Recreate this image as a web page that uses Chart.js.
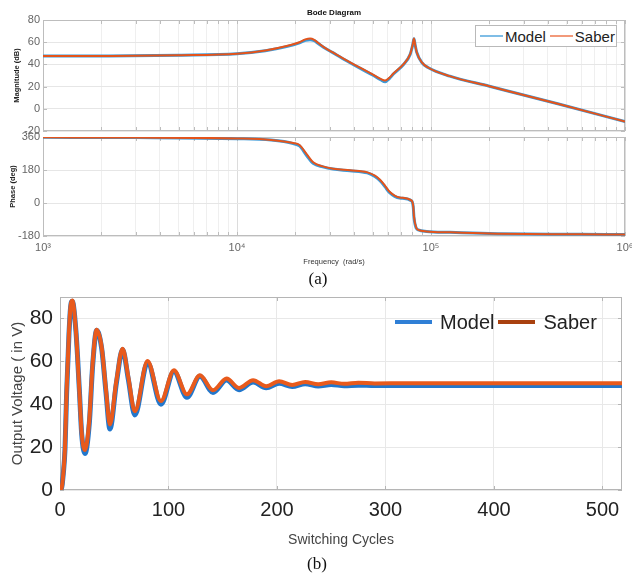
<!DOCTYPE html>
<html>
<head>
<meta charset="utf-8">
<script src="https://cdn.jsdelivr.net/npm/chart.js@4.4.1/dist/chart.umd.min.js"></script>
<style>
  body { margin: 0; background: #fff; }
  #page { position: relative; width: 632px; height: 573px; overflow: hidden; font-family: "Liberation Sans", Arial, sans-serif; }
  canvas { position: absolute; left: 0; }
  .cap { position: absolute; font-family: "Liberation Serif", "Times New Roman", serif; font-size: 17px; color: #111; transform: translate(-50%, -50%); }
  .legend { position: absolute; display: flex; align-items: center; white-space: nowrap; color: #222; box-sizing: border-box; }
  .legend .sw { display: inline-block; }
</style>
</head>
<body>
<div id="page">
  <canvas id="mag" width="632" height="140" style="top:0"></canvas>
  <canvas id="phase" width="632" height="142" style="top:128px"></canvas>
  <canvas id="time" width="632" height="265" style="top:285px"></canvas>
  <div id="legA" class="legend" style="left:475px;top:25px;width:142px;height:22px;border:1px solid #b9b9b9;background:#fff;font-size:15px;padding-left:4px"></div>
  <div id="legB" class="legend" style="left:395px;top:309px;height:26px;font-size:20px"></div>
  <div class="cap" style="left:318px;top:279px">(a)</div>
  <div class="cap" style="left:317px;top:564px">(b)</div>
</div>
<script>
// series names
const seriesNames = ['Model', 'Saber'];

// Bode magnitude (frequency in rad/s, dB)
const magFreq  = [1e3, 2e3, 5e3, 1e4, 1.4e4, 1.8e4, 2.1e4, 2.25e4, 2.38e4, 2.5e4, 2.58e4, 2.79e4, 3.1e4, 3.67e4, 4.3e4, 5.0e4, 5.5e4, 5.8e4, 6.1e4, 6.4e4, 7.2e4, 7.8e4, 8.05e4, 8.17e4, 8.3e4, 8.44e4, 8.95e4, 9.7e4, 1.25e5, 2e5, 4.5e5, 1e6];
const magSaber = [47.5, 47.6, 48.2, 49.6, 52.5, 56.5, 60, 62.5, 63.4, 62.2, 60.3, 55.8, 51, 43.6, 37, 31, 27, 25.5, 28, 31.8, 40, 49, 58, 63.4, 57, 51, 42, 37, 29.4, 20.3, 4.5, -11.5];
const magModel = [47.5, 47.6, 48.2, 49.5, 52.3, 56, 59.4, 61.6, 62.3, 61.5, 59.8, 55.5, 50.8, 43.3, 36.6, 30.4, 26.2, 24.4, 27.2, 31.3, 39.7, 48.8, 57.6, 63, 56.8, 50.9, 41.9, 37, 29.4, 20.3, 4.5, -11.5];

// Bode phase (deg)
const phaseFreq  = [1e3, 3e3, 1e4, 1.5e4, 1.95e4, 2.1e4, 2.29e4, 2.47e4, 2.77e4, 3.13e4, 3.82e4, 4.7e4, 5.14e4, 5.46e4, 5.8e4, 6.1e4, 6.9e4, 7.95e4, 8.1e4, 8.17e4, 8.4e4, 8.6e4, 9.5e4, 1.25e5, 2e5, 1e6];
const phaseSaber = [358, 357, 352, 344, 327, 316, 265, 222, 200, 187, 178, 167, 149, 127, 94, 63, 30, 13, -19, -73, -136, -146, -155, -160, -166, -172];
const phaseModel = [358, 357, 351, 343, 324, 311, 258, 216, 197, 185, 176, 164, 144, 121, 88, 58, 27, 11, -22, -78, -138, -147, -155, -160, -166, -172];

// output voltage vs switching cycles
const cycles    = [0, 0.9, 3.1, 4.6, 6.1, 8.3, 9.8, 11.3, 14.7, 17.8, 20, 23, 27, 30.1, 33.8, 38.4, 42.4, 46, 52, 57.7, 63, 69, 80.7, 93, 105, 117, 129, 141, 153.5, 165, 178, 190, 202, 214, 226, 238, 250, 262, 275, 290, 320, 400, 518];
const voltSaber = [0, 0, 8, 20, 46.5, 74, 86, 88.4, 74, 46.5, 26.5, 18.6, 32.6, 59, 74.7, 66.7, 46.5, 30.5, 51, 65.9, 52.5, 36.7, 60.1, 41.5, 55.8, 44.6, 53.5, 46.5, 52, 47.6, 51.2, 48.4, 50.7, 49, 50.4, 49.3, 50.2, 49.5, 50, 49.7, 49.8, 49.8, 49.8];
const voltModel = [0, 0, 8, 19, 45, 73, 85.5, 88, 74, 47, 26, 17, 31, 58, 74.5, 66, 45.5, 28.5, 50, 65.5, 51.5, 35, 59.5, 40, 55.3, 43.2, 53, 45.5, 51.3, 46.8, 50.4, 47.7, 49.8, 48.3, 49.6, 48.5, 49.2, 48.6, 48.9, 48.7, 48.7, 48.7, 48.7];

const bodeColors = ['#3d9ad8', '#e4541b'];
const timeColors = ['#2277cc', '#e85a1c'];
const timeLegendColors = ['#2f7fd6', '#a9410f'];

Chart.defaults.font.family = '"Liberation Sans", Arial, sans-serif';

const toXY = (xs, ys) => xs.map((x, i) => ({x: x, y: ys[i]}));

// 1,2,...,9 x 10^n grid positions for the frequency axis
const freqTicks = [];
for (let e = 3; e < 6; e++) {
  for (let m = 1; m < 10; m++) freqTicks.push(m * Math.pow(10, e));
}
freqTicks.push(1e6);
const sup = {3: '\u00b3', 4: '\u2074', 5: '\u2075', 6: '\u2076'};
const isDecade = v => Math.abs(Math.log10(v) - Math.round(Math.log10(v))) < 1e-9;

// matlab style box with inward tick marks
const framePlugin = {
  id: 'frame',
  beforeDatasetsDraw(chart, args, opts) {
    const {ctx, chartArea: a, scales} = chart;
    const len = opts.tick || 4;
    ctx.save();
    ctx.strokeStyle = opts.color || '#bbb';
    ctx.lineWidth = 1;
    ctx.beginPath();
    scales.x.ticks.forEach(t => {
      const px = Math.round(scales.x.getPixelForValue(t.value)) + 0.5;
      ctx.moveTo(px, a.top); ctx.lineTo(px, a.top + len);
      ctx.moveTo(px, a.bottom); ctx.lineTo(px, a.bottom - len);
    });
    scales.y.ticks.forEach(t => {
      const py = Math.round(scales.y.getPixelForValue(t.value)) + 0.5;
      ctx.moveTo(a.left, py); ctx.lineTo(a.left + len, py);
      ctx.moveTo(a.right, py); ctx.lineTo(a.right - len, py);
    });
    ctx.stroke();
    ctx.strokeRect(Math.round(a.left) + 0.5, Math.round(a.top) + 0.5, Math.round(a.right - a.left) - 1, Math.round(a.bottom - a.top) - 1);
    ctx.restore();
  }
};

function freqAxis(showLabels) {
  return {
    type: 'logarithmic', min: 1e3, max: 1e6,
    afterBuildTicks: s => { s.ticks = freqTicks.map(v => ({value: v})); },
    afterFit: s => { s.height = showLabels ? 34 : 0; s.paddingLeft = 0; s.paddingRight = 0; },
    grid: { drawTicks: false, color: c => (c.tick && isDecade(c.tick.value)) ? '#dcdcdc' : '#efefef' },
    border: { display: false },
    ticks: {
      display: showLabels, autoSkip: false, maxRotation: 0, padding: 5, color: '#666', font: {size: 11},
      callback: v => isDecade(v) ? '10' + sup[Math.round(Math.log10(v))] : ''
    },
    title: { display: showLabels, text: 'Frequency  (rad/s)', color: '#333', font: {size: 7.5}, padding: {top: 0, bottom: 3.5} }
  };
}

function valueAxis(min, max, step, title, titlePad) {
  return {
    min: min, max: max,
    afterFit: s => { s.width = 43; s.paddingTop = 0; s.paddingBottom = 0; },
    grid: { drawTicks: false, color: '#e6e6e6' },
    border: { display: false },
    ticks: { stepSize: step, includeBounds: false, padding: 3, color: '#666', font: {size: 11} },
    title: { display: true, text: title, color: '#222', font: {size: 7.5, weight: 'bold'}, padding: {top: titlePad, bottom: 0} }
  };
}

const baseOptions = {
  responsive: false, animation: false, devicePixelRatio: 1,
  elements: { point: { radius: 0 }, line: { cubicInterpolationMode: 'monotone', borderCapStyle: 'round', borderJoinStyle: 'round' } }
};

new Chart(document.getElementById('mag'), {
  type: 'line',
  data: { datasets: [
    { label: seriesNames[0], data: toXY(magFreq, magModel), borderColor: bodeColors[0], borderWidth: 3, order: 2 },
    { label: seriesNames[1], data: toXY(magFreq, magSaber), borderColor: bodeColors[1], borderWidth: 2, order: 1 }
  ]},
  options: Object.assign({}, baseOptions, {
    layout: { padding: { top: 0, right: 7, bottom: 9, left: 0 } },
    plugins: {
      legend: { display: false }, tooltip: { enabled: false },
      title: { display: true, text: 'Bode Diagram', fullSize: false, color: '#111', font: {size: 8, weight: 'bold'}, padding: {top: 8, bottom: 2.4} },
      frame: { color: '#bdbdbd', tick: 4 }
    },
    scales: { x: freqAxis(false), y: valueAxis(-20, 80, 20, 'Magnitude (dB)', 12.5) }
  }),
  plugins: [framePlugin]
});

new Chart(document.getElementById('phase'), {
  type: 'line',
  data: { datasets: [
    { label: seriesNames[0], data: toXY(phaseFreq, phaseModel), borderColor: bodeColors[0], borderWidth: 3, order: 2 },
    { label: seriesNames[1], data: toXY(phaseFreq, phaseSaber), borderColor: bodeColors[1], borderWidth: 2, order: 1 }
  ]},
  options: Object.assign({}, baseOptions, {
    layout: { padding: { top: 9, right: 7, bottom: 0, left: 0 } },
    plugins: { legend: { display: false }, tooltip: { enabled: false }, frame: { color: '#bdbdbd', tick: 4 } },
    scales: { x: freqAxis(true), y: valueAxis(-180, 360, 180, 'Phase (deg)', 8) }
  }),
  plugins: [framePlugin]
});

new Chart(document.getElementById('time'), {
  type: 'line',
  data: { datasets: [
    { label: seriesNames[0], data: toXY(cycles, voltModel), borderColor: timeColors[0], borderWidth: 5, order: 2 },
    { label: seriesNames[1], data: toXY(cycles, voltSaber), borderColor: timeColors[1], borderWidth: 4, order: 1 }
  ]},
  options: Object.assign({}, baseOptions, {
    layout: { padding: { top: 12, right: 10, bottom: 0, left: 0 } },
    plugins: { legend: { display: false }, tooltip: { enabled: false }, frame: { color: '#b5b5b5', tick: 4 } },
    scales: {
      x: {
        type: 'linear', min: 0, max: 518,
        afterFit: s => { s.height = 60; s.paddingLeft = 0; s.paddingRight = 0; },
        grid: { drawTicks: false, color: '#e8e8e8' },
        border: { display: false },
        ticks: { stepSize: 100, includeBounds: false, padding: 8, color: '#222', font: {size: 20}, maxRotation: 0, autoSkip: false },
        title: { display: true, text: 'Switching Cycles', color: '#444', font: {size: 14}, padding: {top: 0, bottom: 1.6} }
      },
      y: {
        min: 0, max: 90,
        afterFit: s => { s.width = 60; s.paddingTop = 0; s.paddingBottom = 0; },
        grid: { drawTicks: false, color: '#e8e8e8' },
        border: { display: false },
        ticks: { stepSize: 20, includeBounds: false, padding: 7, color: '#222', font: {size: 21} },
        title: { display: true, text: 'Output Voltage ( in V)', color: '#444', font: {size: 15}, padding: {top: 9, bottom: 0} }
      }
    }
  }),
  plugins: [framePlugin]
});

// legends
function buildLegend(el, colors, swW, swH, gaps) {
  seriesNames.forEach((name, i) => {
    const sw = document.createElement('span');
    sw.className = 'sw';
    sw.style.width = swW + 'px';
    sw.style.height = swH + 'px';
    sw.style.background = colors[i];
    sw.style.marginLeft = (i === 0 ? 0 : gaps[0]) + 'px';
    sw.style.marginRight = gaps[1] + 'px';
    const tx = document.createElement('span');
    tx.textContent = name;
    el.appendChild(sw);
    el.appendChild(tx);
  });
}
buildLegend(document.getElementById('legA'), ['#7fbde6', '#f2997a'], 23, 1.5, [4, 2]);
buildLegend(document.getElementById('legB'), timeLegendColors, 37, 4, [4, 8]);
</script>
</body>
</html>
